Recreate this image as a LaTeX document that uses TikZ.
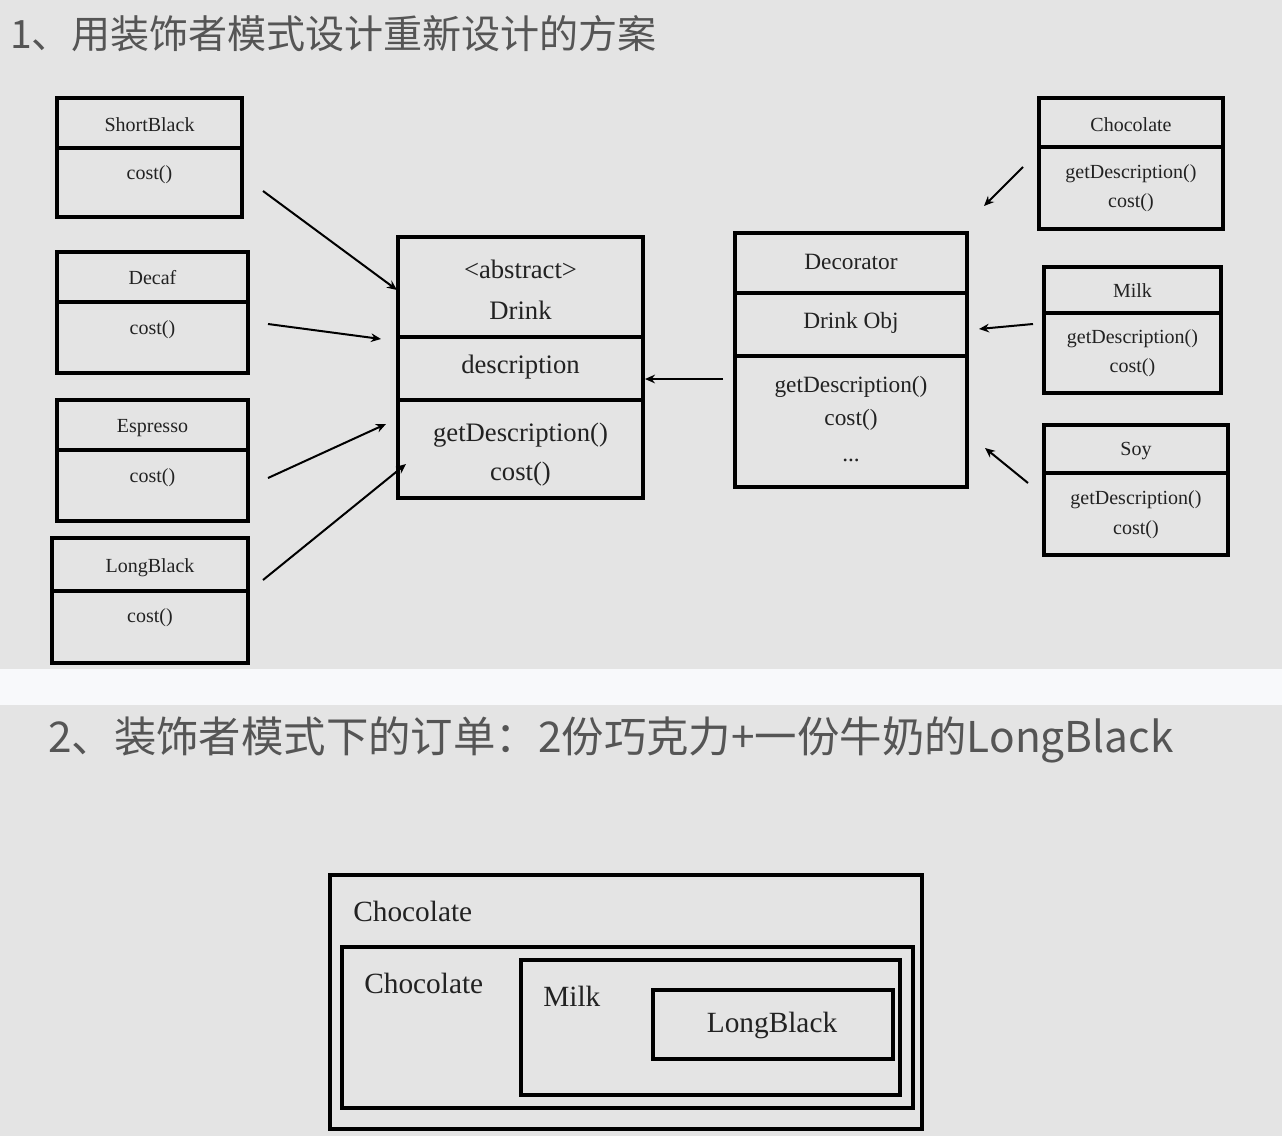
\documentclass[tikz,border=0pt]{standalone}
\usepackage{fontspec}
\setmainfont{Liberation Serif}
\newfontfamily\cjk{Noto Sans CJK SC}
\usetikzlibrary{arrows.meta}
\definecolor{bg}{HTML}{E4E4E4}
\definecolor{band}{HTML}{F8F9FB}
\definecolor{ttl}{HTML}{555555}
\definecolor{ink}{HTML}{222222}
\begin{document}
\begin{tikzpicture}[x=0.75pt,y=-0.75pt,
  frame/.style={draw=black,line width=2.3pt},
  arr/.style={draw=black,line width=1.5pt,-{Stealth[length=7.5pt,width=6.5pt]}},
  tsmall/.style={font=\fontsize{15}{18}\selectfont,text=ink,inner sep=0pt,anchor=base},
  tmid/.style={font=\fontsize{17.5}{21}\selectfont,text=ink,inner sep=0pt,anchor=base},
  tbig/.style={font=\fontsize{20}{24}\selectfont,text=ink,inner sep=0pt,anchor=base},
  tnest/.style={font=\fontsize{22}{26}\selectfont,text=ink,inner sep=0pt,anchor=base west},
  title/.style={font=\cjk\fontsize{29.3}{34}\selectfont,text=ttl,inner sep=0pt,anchor=west}]
\useasboundingbox (0,0) rectangle (1282,1136);
\fill[bg] (0,0) rectangle (1282,1136);
\fill[band] (0,669) rectangle (1282,705);

% titles
\node[title] (t1) at (10,34) {1、用装饰者模式设计重新设计的方案};
\node[title,font=\cjk\fontsize{31.8}{36}\selectfont] (t2) at (48,740) {2、装饰者模式下的订单：2份巧克力+一份牛奶的LongBlack};

% ShortBlack
\draw[frame] (57,98) rectangle (242,217);
\draw[frame] (57,148) -- (242,148);
\node[tsmall] (sbn) at (149.5,131) {ShortBlack};
\node[tsmall] (sbc) at (149.5,179) {cost()};
% Decaf
\draw[frame] (57,252) rectangle (248,373);
\draw[frame] (57,302) -- (248,302);
\node[tsmall] (dcn) at (152.5,284) {Decaf};
\node[tsmall] (dcc) at (152.5,334) {cost()};
% Espresso
\draw[frame] (57,400) rectangle (248,521);
\draw[frame] (57,450) -- (248,450);
\node[tsmall] (esn) at (152.5,432) {Espresso};
\node[tsmall] (esc) at (152.5,482) {cost()};
% LongBlack
\draw[frame] (52,538) rectangle (248,663);
\draw[frame] (52,591) -- (248,591);
\node[tsmall] (lbn) at (150,572) {LongBlack};
\node[tsmall] (lbc) at (150,622) {cost()};

% Drink
\draw[frame] (398,237) rectangle (643,498);
\draw[frame] (398,337) -- (643,337);
\draw[frame] (398,400) -- (643,400);
\node[tbig] (dra) at (520.5,278) {<abstract>};
\node[tbig] (drn) at (520.5,319) {Drink};
\node[tbig] (drd) at (520.5,373) {description};
\node[tbig] (drg) at (520.5,441) {getDescription()};
\node[tbig] (drc) at (520.5,480) {cost()};

% Decorator
\draw[frame] (735,233) rectangle (967,487);
\draw[frame] (735,293) -- (967,293);
\draw[frame] (735,356) -- (967,356);
\node[tmid] (den) at (851,269) {Decorator};
\node[tmid] (deo) at (851,328) {Drink Obj};
\node[tmid] (deg) at (851,392) {getDescription()};
\node[tmid] (dec) at (851,425) {cost()};
\node[tmid] (ded) at (851,461) {...};

% Chocolate
\draw[frame] (1039,98) rectangle (1223,229);
\draw[frame] (1039,147) -- (1223,147);
\node[tsmall] (chn) at (1131,131) {Chocolate};
\node[tsmall] (chg) at (1131,178) {getDescription()};
\node[tsmall] (chc) at (1131,207) {cost()};
% Milk
\draw[frame] (1044,267) rectangle (1221,393);
\draw[frame] (1044,313) -- (1221,313);
\node[tsmall] (mkn) at (1132.5,297) {Milk};
\node[tsmall] (mkg) at (1132.5,343) {getDescription()};
\node[tsmall] (mkc) at (1132.5,372) {cost()};
% Soy
\draw[frame] (1044,425) rectangle (1228,555);
\draw[frame] (1044,473) -- (1228,473);
\node[tsmall] (syn) at (1136,455) {Soy};
\node[tsmall] (syg) at (1136,504) {getDescription()};
\node[tsmall] (syc) at (1136,534) {cost()};

% arrow end points
\coordinate (a1s) at (263,191); \coordinate (a1e) at (397,290);
\coordinate (a2s) at (268,324); \coordinate (a2e) at (381,339);
\coordinate (a3s) at (268,478); \coordinate (a3e) at (386,424);
\coordinate (a4s) at (263,580); \coordinate (a4e) at (406,464);
\coordinate (a5s) at (723,379); \coordinate (a5e) at (645,379);
\coordinate (a6s) at (1023,167); \coordinate (a6e) at (984,206);
\coordinate (a7s) at (1033,324); \coordinate (a7e) at (979,329);
\coordinate (a8s) at (1028,483); \coordinate (a8e) at (985,448);
\draw[arr] (a1s) -- (a1e);
\draw[arr] (a2s) -- (a2e);
\draw[arr] (a3s) -- (a3e);
\draw[arr] (a4s) -- (a4e);
\draw[arr] (a5s) -- (a5e);
\draw[arr] (a6s) -- (a6e);
\draw[arr] (a7s) -- (a7e);
\draw[arr] (a8s) -- (a8e);

% nested order
\draw[frame] (330,875) rectangle (922,1129);
\draw[frame] (342,947) rectangle (913,1108);
\draw[frame] (521,960) rectangle (900,1095);
\draw[frame] (653,990) rectangle (893,1059);
\node[tnest] (n1) at (353,921) {Chocolate};
\node[tnest] (n2) at (364,993) {Chocolate};
\node[tnest] (n3) at (543,1006) {Milk};
\node[tnest,anchor=base] (n4) at (772,1032) {LongBlack};
\end{tikzpicture}
\end{document}
